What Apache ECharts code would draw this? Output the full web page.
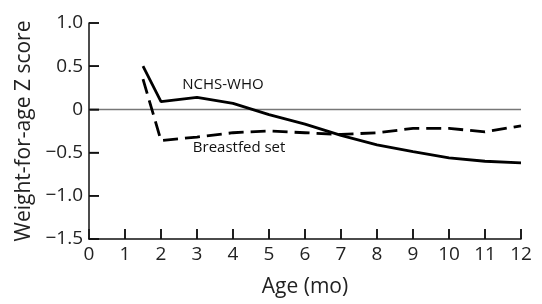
<!DOCTYPE html>
<html>
<head>
<meta charset="utf-8">
<script src="https://cdn.jsdelivr.net/npm/echarts@6/dist/echarts.min.js"></script>
<style>
    html, body { margin: 0; padding: 0; background: #fff; }
    #main { width: 542px; height: 304px; }
</style>
</head>
<body>
<div id="main"></div>
<script>
// 数据
var ages = [1.5, 2, 3, 4, 5, 6, 7, 8, 9, 10, 11, 12];
var nchsWho = [0.50, 0.09, 0.14, 0.07, -0.06, -0.17, -0.30, -0.41, -0.49, -0.56, -0.60, -0.62];
var breastfed = [0.35, -0.36, -0.32, -0.27, -0.25, -0.27, -0.29, -0.27, -0.22, -0.22, -0.26, -0.19];
var zeroAges = [0, 12];
var zeroLine = [0, 0];
var xTickVals = [1, 2, 3, 4, 5, 6, 7, 8, 9, 10, 11, 12];
var yTickVals = [-1.5, -1.0, -0.5, 0, 0.5, 1.0];

var pairs = function (xs, ys) {
    return xs.map(function (x, i) { return [x, ys[i]]; });
};

var yLabel = function (v) {
    var s = v === 0 ? '0' : Math.abs(v).toFixed(1);
    return v < 0 ? '−' + s : s;
};

var font = '"Open Sans", sans-serif';

/**
 * 曲线旁的文字标注
 */
var tag = function (text, x, y) {
    return {
        symbol: 'circle',
        symbolSize: 1,
        itemStyle: { color: 'transparent' },
        label: { show: true, position: 'inside', formatter: text, fontFamily: font, fontSize: 15, color: '#111' },
        data: [{ coord: [x, y] }]
    };
};

/**
 * 刻度线 (朝内)
 */
var tickSeries = function (data, dx, dy) {
    return {
        type: 'custom',
        silent: true,
        z: 5,
        data: data,
        renderItem: function (params, api) {
            var p = api.coord([api.value(0), api.value(1)]);
            return {
                type: 'line',
                shape: { x1: p[0], y1: p[1], x2: p[0] + dx, y2: p[1] + dy },
                style: { stroke: '#111', lineWidth: 1.5 }
            };
        }
    };
};

var myChart = echarts.init(document.getElementById('main')),
    option = {
        animation: false,
        grid: {
            left: 89,
            right: 21,
            top: 23,
            bottom: 65
        },
        xAxis: {
            type: 'value',
            min: 0,
            max: 12,
            interval: 1,
            name: 'Age (mo)',
            nameLocation: 'middle',
            nameGap: 38,
            nameTextStyle: { fontFamily: font, fontSize: 21, color: '#222' },
            axisLine: { onZero: false, lineStyle: { color: '#111', width: 1.5 } },
            axisTick: { show: true, inside: true, length: 10, lineStyle: { color: '#111', width: 1.5 } },
            axisLabel: { fontFamily: font, fontSize: 19, color: '#222', margin: 6 },
            splitLine: { show: false }
        },
        yAxis: {
            type: 'value',
            min: -1.5,
            max: 1.0,
            interval: 0.5,
            name: 'Weight-for-age Z score',
            nameLocation: 'middle',
            nameGap: 54,
            nameTextStyle: { fontFamily: font, fontSize: 21, color: '#222' },
            axisLine: { show: true, onZero: false, lineStyle: { color: '#111', width: 1.5 } },
            axisTick: { show: true, inside: true, length: 10, lineStyle: { color: '#111', width: 1.5 } },
            axisLabel: { fontFamily: font, fontSize: 19, color: '#222', margin: 6, formatter: yLabel },
            splitLine: { show: false }
        },
        series: [
            {
                name: 'zero',
                type: 'line',
                data: pairs(zeroAges, zeroLine),
                showSymbol: false,
                silent: true,
                lineStyle: { color: '#777', width: 1.5 }
            },
            {
                name: 'NCHS-WHO',
                type: 'line',
                data: pairs(ages, nchsWho),
                showSymbol: false,
                lineStyle: { color: '#000', width: 2.8 },
                markPoint: tag('NCHS-WHO', 3.72, 0.28)
            },
            {
                name: 'Breastfed set',
                type: 'line',
                data: pairs(ages, breastfed),
                showSymbol: false,
                lineStyle: { color: '#000', width: 2.8, type: [15, 7] },
                markPoint: tag('Breastfed set', 4.17, -0.44)
            },
            tickSeries(pairs(xTickVals, xTickVals.map(function () { return -1.5; })), 0, -10),
            tickSeries(pairs(yTickVals.map(function () { return 0; }), yTickVals), 10, 0)
        ]
    };
myChart.setOption(option);
</script>
</body>
</html>
